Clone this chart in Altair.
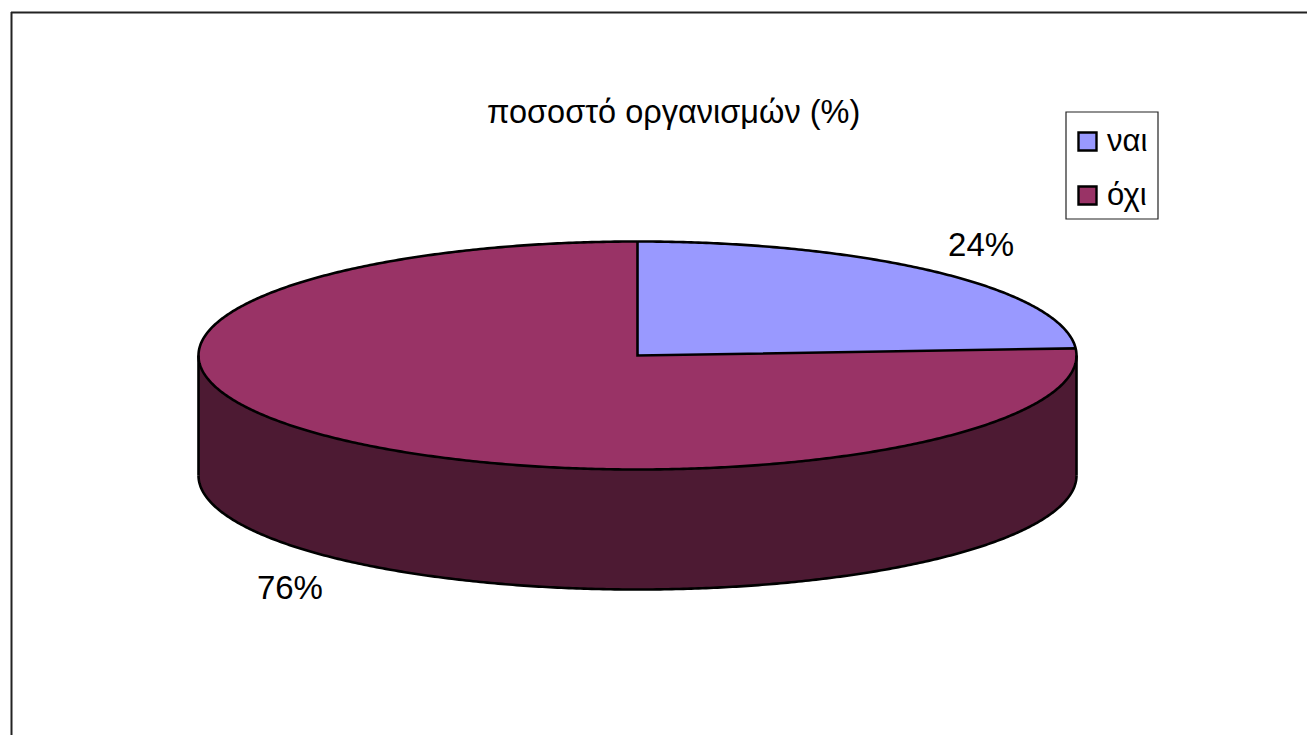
import math
import altair as alt
import pandas as pd

# ---- values ----
categories = ["ναι", "όχι"]
shares = [24, 76]
share_labels = ["24%", "76%"]
colors = ["#9999FF", "#993366"]
side_color = "#4D1A33"
title_text = "ποσοστό οργανισμών (%)"

W, H = 1299, 727
CX, CY = 629.5, 347.5     # pie centre inside the canvas
RX, RY = 439.0, 114.0     # pie radii in pixels
DEPTH = 120.0 / RY        # thickness, in units of RY
FONT = "Liberation Sans"

x_scale = alt.Scale(domain=[-CX / RX, (W - CX) / RX], range=[0, W], nice=False, zero=False)
y_scale = alt.Scale(domain=[(CY - H) / RY, CY / RY], range=[H, 0], nice=False, zero=False)

end_deg = 360 * shares[0] / sum(shares)
end_u = math.sin(math.radians(end_deg))
end_v = math.cos(math.radians(end_deg))


def pt(deg):
    return math.sin(math.radians(deg)), math.cos(math.radians(deg))


half_circle = [d * 0.5 for d in range(-180, 181)]

# whole top face (the larger slice shows through)
top_rows = [{"u": pt(d)[0], "v": pt(d)[1], "v2": -pt(d)[1], "answer": categories[1]} for d in half_circle]
# wedge of the smaller slice
wedge_degs = [d * 0.5 for d in range(0, int(end_deg * 2) + 1)] + [end_deg]
wedge_rows = [{"u": pt(d)[0], "v": pt(d)[1], "v2": pt(d)[0] * end_v / end_u, "answer": categories[0]} for d in wedge_degs]
# visible wall
side_rows = [{"u": pt(d)[0], "v": -pt(d)[1], "v2": -pt(d)[1] - DEPTH} for d in half_circle]

# outlines
lines = []


def add_line(part, pts):
    for i, (u, v) in enumerate(pts):
        lines.append({"u": u, "v": v, "part": part, "step": i})


add_line("rim", [pt(d * 0.5) for d in range(0, 721)])
add_line("base", [(pt(d)[0], -pt(d)[1] - DEPTH) for d in half_circle])
add_line("left", [(-1, 0), (-1, -DEPTH)])
add_line("right", [(1, 0), (1, -DEPTH)])
add_line("radius", [(0, 1), (0, 0), (end_u, end_v)])

# slice labels sit just outside the middle of each slice
label_rows = []
start = 0.0
for name, share, text in zip(categories, shares, share_labels):
    mid = start + 180 * share / sum(shares)
    s, c = pt(mid)
    label_rows.append({"u": 1.15 * s, "v": 1.345 * c - (DEPTH if c < 0 else 0), "text": text})
    start += 360 * share / sum(shares)

X = alt.X("u:Q", scale=x_scale, axis=None)
Y = alt.Y("v:Q", scale=y_scale, axis=None, stack=None)
color = alt.Color(
    "answer:N",
    scale=alt.Scale(domain=categories, range=colors),
    legend=alt.Legend(
        orient="none",
        legendX=1064,
        legendY=118,
        title=None,
        symbolType="square",
        symbolSize=324,
        symbolStrokeColor="black",
        symbolStrokeWidth=2.4,
        symbolOpacity=1,
        labelFont=FONT,
        labelFontSize=31,
        labelColor="black",
        labelOffset=4,
        rowPadding=22,
        padding=0,
    ),
)

side = alt.Chart(pd.DataFrame(side_rows)).mark_area(color=side_color).encode(x=X, y=Y, y2="v2:Q")
top = alt.Chart(pd.DataFrame(top_rows)).mark_area(opacity=1).encode(x=X, y=Y, y2="v2:Q", color=color)
wedge = alt.Chart(pd.DataFrame(wedge_rows)).mark_area(opacity=1).encode(x=X, y=Y, y2="v2:Q", color=color)
outline = alt.Chart(pd.DataFrame(lines)).mark_line(color="black", strokeWidth=2.6).encode(
    x=X, y=Y, detail="part:N", order="step:Q"
)
labels = alt.Chart(pd.DataFrame(label_rows)).mark_text(
    font=FONT, fontSize=33, color="black", align="center", baseline="middle", dx=-2, dy=2
).encode(x=X, y=Y, text="text:N")

one = pd.DataFrame({"a": [0]})
frame_top = alt.Chart(one).mark_rule(color="#222222", strokeWidth=2).encode(
    x=alt.value(3), x2=alt.value(W), y=alt.value(4.5)
)
frame_left = alt.Chart(one).mark_rule(color="#222222", strokeWidth=2).encode(
    x=alt.value(3.5), y=alt.value(4), y2=alt.value(H)
)
legend_box = alt.Chart(one).mark_rect(filled=False, stroke="#222222", strokeWidth=1.2).encode(
    x=alt.value(1058), x2=alt.value(1150), y=alt.value(104), y2=alt.value(211)
)

chart = (
    alt.layer(frame_top, frame_left, legend_box, side, top, wedge, outline, labels)
    .resolve_scale(color="shared")
    .properties(
        width=W,
        height=H,
        padding=0,
        autosize=alt.AutoSizeParams(type="none", contains="content"),
        background="white",
        title=alt.TitleParams(
            text=title_text,
            font=FONT,
            fontSize=32.5,
            fontWeight="normal",
            color="black",
            anchor="start",
            frame="group",
            dx=479,
            offset=-147,
            baseline="alphabetic",
        ),
    )
    .configure_view(stroke=None)
)

chart.save("out.html", embed_options={"renderer": "svg", "actions": False})
